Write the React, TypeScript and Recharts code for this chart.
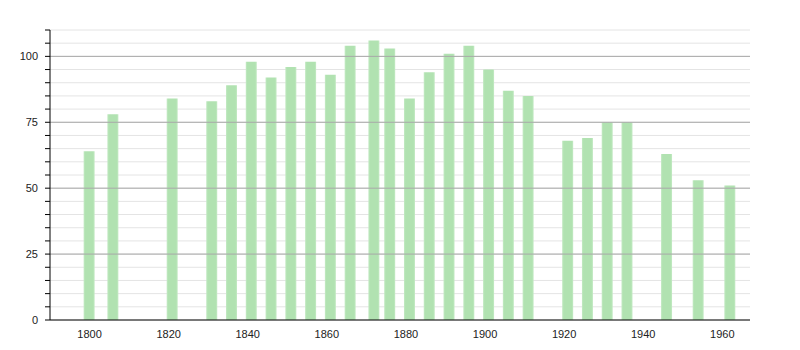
import { BarChart, Bar, XAxis, YAxis, CartesianGrid, ReferenceLine } from "recharts";

const years = [
  1800, 1806, 1821, 1831, 1836, 1841, 1846, 1851, 1856, 1861, 1866, 1872, 1876, 1881,
  1886, 1891, 1896, 1901, 1906, 1911, 1921, 1926, 1931, 1936, 1946, 1954, 1962,
];
const population = [
  64, 78, 84, 83, 89, 98, 92, 96, 98, 93, 104, 106, 103, 84,
  94, 101, 104, 95, 87, 85, 68, 69, 75, 75, 63, 53, 51,
];
const xTicks = [1800, 1820, 1840, 1860, 1880, 1900, 1920, 1940, 1960];
const yMinorTicks = [0, 5, 10, 15, 20, 25, 30, 35, 40, 45, 50, 55, 60, 65, 70, 75, 80, 85, 90, 95, 100, 105, 110];
const yMajorTicks = [25, 50, 75, 100];

const data = years.map((year, i) => ({ year, value: population[i] }));

const YTick = (props: any) => {
  const { x, y, payload } = props;
  if (payload.value % 25 !== 0) return null;
  return (
    <text x={x} y={y} dy={4} textAnchor="end" fontSize={11} fill="#222" fontFamily="Liberation Sans, Arial, sans-serif">
      {payload.value}
    </text>
  );
};

export default function App() {
  return (
    <div style={{ position: "absolute", left: 0, top: 0, background: "#fff" }}>
      <BarChart
        width={800}
        height={350}
        data={data}
        margin={{ top: 30, right: 50, left: 0, bottom: 0 }}
      >
        <defs>
          <linearGradient id="barFill" x1="0" y1="0" x2="1" y2="0">
            <stop offset="0%" stopColor="#c4eac4" />
            <stop offset="15%" stopColor="#b1e2b1" />
            <stop offset="85%" stopColor="#b1e2b1" />
            <stop offset="100%" stopColor="#c4eac4" />
          </linearGradient>
        </defs>
        <CartesianGrid vertical={false} stroke="#e4e4e4" />
        {yMajorTicks.map((v) => (
          <ReferenceLine key={v} y={v} stroke="#a8a8a8" />
        ))}
        <XAxis
          dataKey="year"
          type="number"
          domain={[1790, 1967]}
          ticks={xTicks}
          tickLine={false}
          axisLine={{ stroke: "#000" }}
          height={30}
          tick={{ fontSize: 11, fill: "#222", fontFamily: "Liberation Sans, Arial, sans-serif" }}
          tickMargin={4}
        />
        <YAxis
          type="number"
          domain={[0, 110]}
          ticks={yMinorTicks}
          interval={0}
          width={50}
          tickSize={5}
          tickMargin={7}
          tickLine={{ stroke: "#000" }}
          axisLine={{ stroke: "#000" }}
          tick={<YTick />}
        />
        <Bar dataKey="value" fill="url(#barFill)" barSize={11} isAnimationActive={false} />
      </BarChart>
    </div>
  );
}
